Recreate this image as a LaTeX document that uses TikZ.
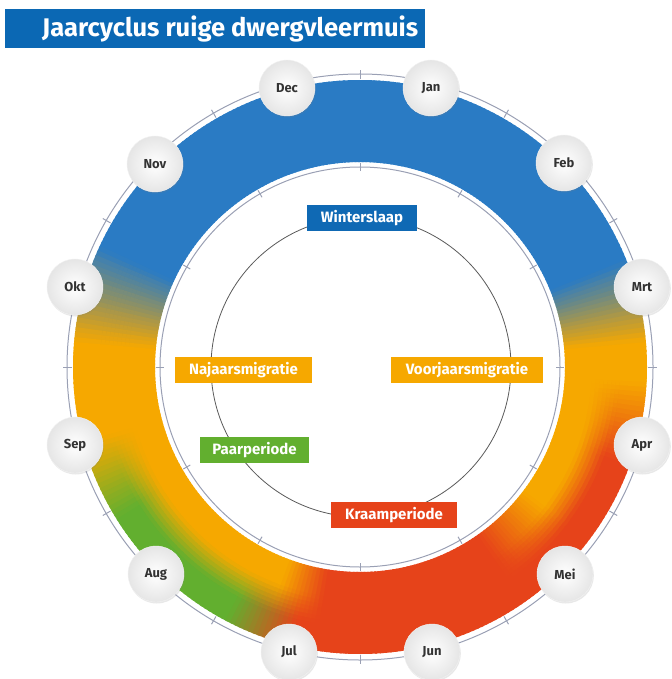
\documentclass[tikz,border=0pt]{standalone}
\usepackage{fontspec}
\setmainfont{Fira Sans}
\usetikzlibrary{shadows}
\definecolor{cB}{HTML}{2A7BC4}
\definecolor{cY}{HTML}{F6A800}
\definecolor{cG}{HTML}{62AF2F}
\definecolor{cR}{HTML}{E6431A}
\colorlet{cGR}{cR!57!cG}
\colorlet{cYR}{cR!55!cY}
\definecolor{tB}{HTML}{0B68B4}
\definecolor{boxB}{HTML}{0F69B4}
\definecolor{lineC}{HTML}{9AA0B4}
\definecolor{monthT}{HTML}{333333}
% annular sector with angular colour gradient: rin rout a0 a1 colA colB
\newcommand\ringseg[6]{%
  \pgfmathtruncatemacro\nst{max(1,round(abs(#4-#3)))}%
  \pgfmathsetmacro\stp{(#4-#3)/\nst}%
  \foreach \i in {1,...,\nst}{%
    \pgfmathsetmacro\angA{#3+(\i-1)*\stp}%
    \pgfmathsetmacro\angB{#3+\i*\stp+0.5}%
    \pgfmathtruncatemacro\pct{round(100*((\i-0.5)/\nst))}%
    \fill[#6!\pct!#5] (\angA:#1) arc[start angle=\angA,end angle=\angB,radius=#1]
      -- (\angB:#2) arc[start angle=\angB,end angle=\angA,radius=#2] -- cycle;
  }}
\begin{document}
\begin{tikzpicture}[x=1pt,y=1pt,
  month/.style={circle, minimum size=56, inner sep=0pt, shading=radial,
    inner color=white, outer color=black!10, draw=black!5, line width=0.4,
    drop shadow={shadow xshift=0.8pt, shadow yshift=-1.5pt, opacity=0.18},
    font=\bfseries\fontsize{13}{13}\selectfont, text=monthT},
  lab/.style={minimum height=26, inner sep=0pt, text=white,
    font=\bfseries\fontsize{15}{15}\selectfont},
  ringline/.style={lineC, line width=1}]
\useasboundingbox (0,0) rectangle (671,-679);
% title
\fill[tB] (5,-9) rectangle (425,-48);
\node[anchor=west, text=white, inner sep=0pt, font=\bfseries\fontsize{25.5}{25.5}\selectfont] (title) at (42,-28.5) {Jaarcyclus ruige dwergvleermuis};
% ring
\begin{scope}[shift={(360,-367)}]
  \foreach \a/\b/\oa/\ob/\ia/\ib in {0/5/cY/cY/cY/cY, 5/22/cY/cB/cY/cB,
      22/155/cB/cB/cB/cB, 155/175/cB/cY/cB/cY, 175/195/cY/cY/cY/cY,
      195/212/cY/cG/cY/cY, 212/242/cG/cG/cY/cY, 242/250/cG/cGR/cY/cY,
      250/256/cGR/cR/cY/cYR, 256/261/cR/cR/cYR/cR, 261/305/cR/cR/cR/cR,
      305/323/cR/cR/cR/cY, 323/340/cR/cR/cY/cY, 340/357/cR/cY/cY/cY,
      357/359.5/cY/cY/cY/cY}{
    \foreach \ra/\rb/\w in {205/233/0, 232/237/7, 236/241/21, 240/245/36,
        244/249/50, 248/253/64, 252/257/79, 256/261/93, 260/287/100}{
      \colorlet{ca}{\oa!\w!\ia}\colorlet{cb}{\ob!\w!\ib}%
      \ringseg{\ra}{\rb}{\a}{\b}{ca}{cb}
    }
  }
  % guide lines and ticks
  \draw[ringline] (0,0) circle[radius=293];
  \draw[ringline] (0,0) circle[radius=200];
  \foreach \s in {0,30,...,330}{
    \draw[ringline] (\s:288) -- (\s:297);
    \draw[ringline] (\s:196) -- (\s:204);
  }
\end{scope}
% inner thin circle
\draw[black!65, line width=0.8] (361,-367) circle[radius=150];
% period labels
\node[lab, fill=boxB, minimum width=110] (winter) at (362,-218) {Winterslaap};
\node[lab, fill=cY, minimum width=137] (najaar) at (243.5,-370) {Najaarsmigratie};
\node[lab, fill=cY, minimum width=152] (voorjaar) at (467,-370) {Voorjaarsmigratie};
\node[lab, fill=cG, minimum width=109] (paar) at (254.5,-450) {Paarperiode};
\node[lab, fill=cR, minimum width=126] (kraam) at (394,-515) {Kraamperiode};
% months
\node[month] (jan) at (431,-88) {Jan};
\node[month] (feb) at (564,-163) {Feb};
\node[month] (mrt) at (642,-287) {Mrt};
\node[month] (apr) at (642,-445) {Apr};
\node[month] (mei) at (565,-574) {Mei};
\node[month] (jun) at (432,-652) {Jun};
\node[month] (jul) at (289,-652) {Jul};
\node[month] (aug) at (156,-574) {Aug};
\node[month] (sep) at (75,-445) {Sep};
\node[month] (okt) at (75,-287) {Okt};
\node[month] (nov) at (155,-164) {Nov};
\node[month] (dec) at (287,-88) {Dec};
\end{tikzpicture}
\end{document}
